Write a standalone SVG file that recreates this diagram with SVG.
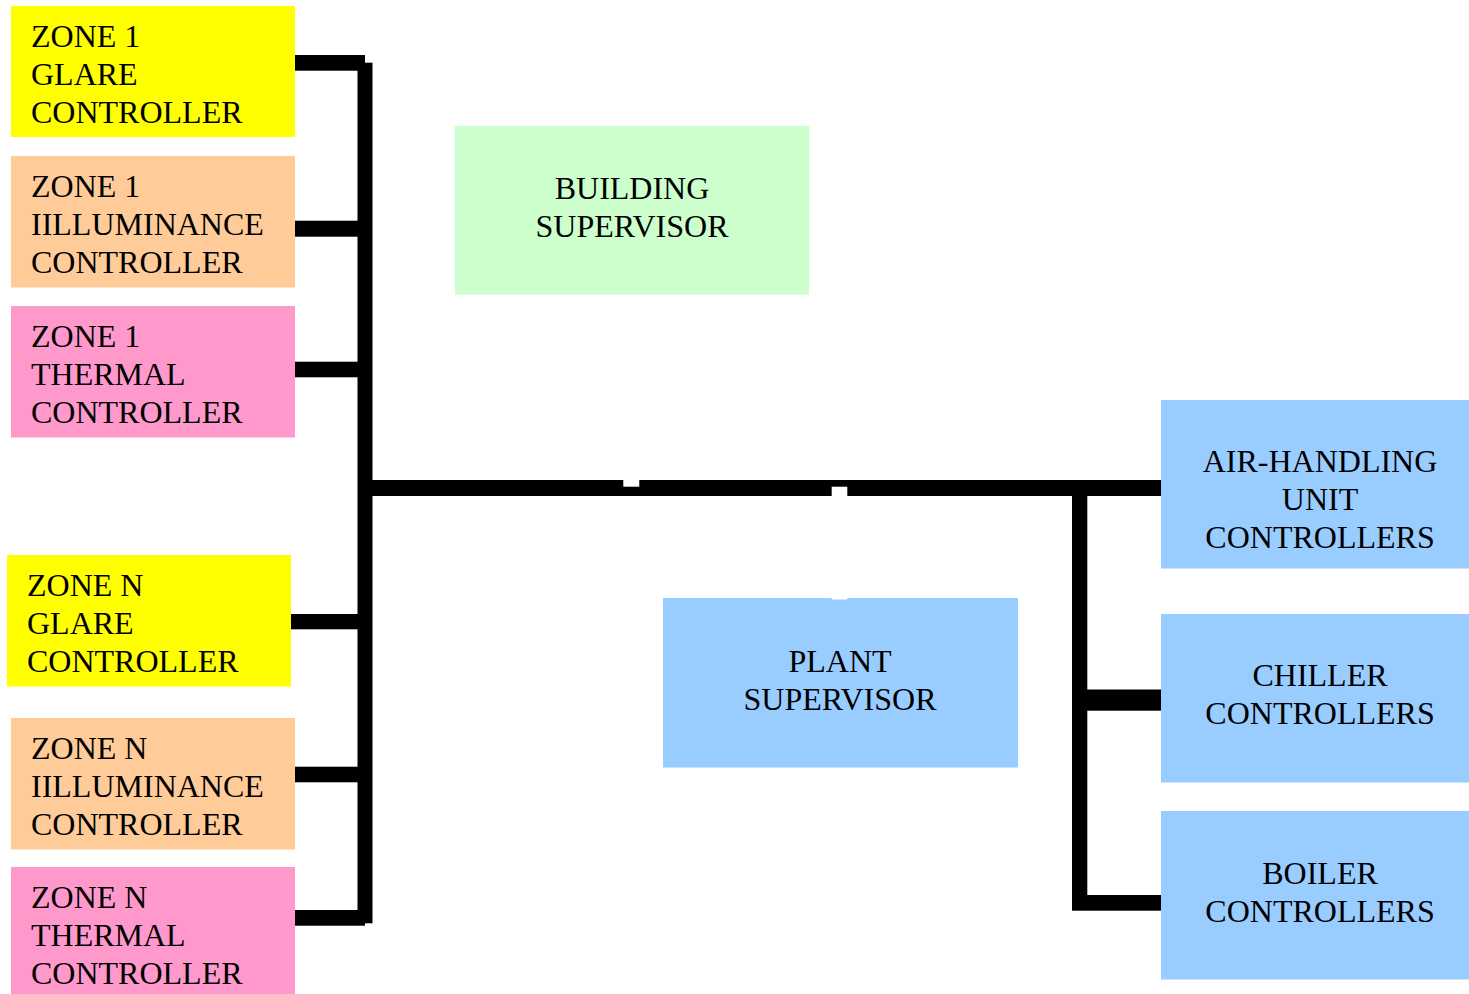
<svg xmlns="http://www.w3.org/2000/svg" width="1469" height="994" viewBox="0 0 1469 994">
<style>
text{font-family:"Liberation Serif","Times New Roman",serif;font-size:32px;fill:#000}
.c{text-anchor:middle}
.y{fill:#FFFF00}.p{fill:#FFCC99}.k{fill:#FF99CC}.g{fill:#CCFFCC}.b{fill:#99CCFF}
.w{fill:#000}.n{fill:#fff}
</style>
<rect width="1469" height="994" fill="#fff"/>
<g id="z1g"><rect class="y" x="11" y="6" width="284" height="131"/><text x="31" y="46.7">ZONE 1</text><text x="31" y="85">GLARE</text><text x="31" y="123.3">CONTROLLER</text></g>
<g id="z1i"><rect class="p" x="11" y="156" width="284" height="131.5"/><text x="31" y="196.7">ZONE 1</text><text x="31" y="235">IILLUMINANCE</text><text x="31" y="273.3">CONTROLLER</text></g>
<g id="z1t"><rect class="k" x="11" y="306" width="284" height="131.5"/><text x="31" y="346.7">ZONE 1</text><text x="31" y="385">THERMAL</text><text x="31" y="423.3">CONTROLLER</text></g>
<g id="zng"><rect class="y" x="7" y="555" width="284" height="131.5"/><text x="27" y="595.7">ZONE N</text><text x="27" y="634">GLARE</text><text x="27" y="672.3">CONTROLLER</text></g>
<g id="zni"><rect class="p" x="11" y="718" width="284" height="131.5"/><text x="31" y="758.7">ZONE N</text><text x="31" y="797">IILLUMINANCE</text><text x="31" y="835.3">CONTROLLER</text></g>
<g id="znt"><rect class="k" x="11" y="867" width="284" height="127"/><text x="31" y="907.7">ZONE N</text><text x="31" y="946">THERMAL</text><text x="31" y="984.3">CONTROLLER</text></g>
<g id="bs"><rect class="g" x="455" y="126" width="354" height="168.5"/><text class="c" x="632" y="199">BUILDING</text><text class="c" x="632" y="237">SUPERVISOR</text></g>
<g id="ps"><rect class="b" x="663" y="598" width="355" height="169.5"/><text class="c" x="840" y="672">PLANT</text><text class="c" x="840" y="710">SUPERVISOR</text></g>
<g id="ahu"><rect class="b" x="1161" y="400" width="308" height="168.5"/><text class="c" x="1320" y="472">AIR-HANDLING</text><text class="c" x="1320" y="510">UNIT</text><text class="c" x="1320" y="548">CONTROLLERS</text></g>
<g id="ch"><rect class="b" x="1161" y="614" width="308" height="168.5"/><text class="c" x="1320" y="686">CHILLER</text><text class="c" x="1320" y="724">CONTROLLERS</text></g>
<g id="bo"><rect class="b" x="1161" y="811" width="308" height="168.5"/><text class="c" x="1320" y="884">BOILER</text><text class="c" x="1320" y="922">CONTROLLERS</text></g>
<g id="connectors">
<rect class="w" x="357.5" y="62.7" width="15" height="860.6"/>
<rect class="w" x="295" y="55" width="70" height="15.7"/>
<rect class="w" x="295" y="220.7" width="70" height="16"/>
<rect class="w" x="295" y="361.7" width="70" height="15.6"/>
<rect class="w" x="291" y="614" width="74" height="15.3"/>
<rect class="w" x="295" y="766.7" width="70" height="15.6"/>
<rect class="w" x="295" y="910" width="70" height="15.7"/>
<rect class="w" x="365" y="480" width="796" height="16"/>
<rect class="w" x="1072" y="480" width="15.3" height="430.7"/>
<rect class="w" x="1087" y="689.5" width="74" height="21.2"/>
<rect class="w" x="1087" y="895" width="74" height="15.7"/>
<rect class="n" x="623.3" y="480" width="16" height="6.7"/>
<rect class="n" x="831.7" y="486.7" width="15.6" height="9.3"/>
<rect class="n" x="831.7" y="597.7" width="15.6" height="1.8"/>
</g>
</svg>
